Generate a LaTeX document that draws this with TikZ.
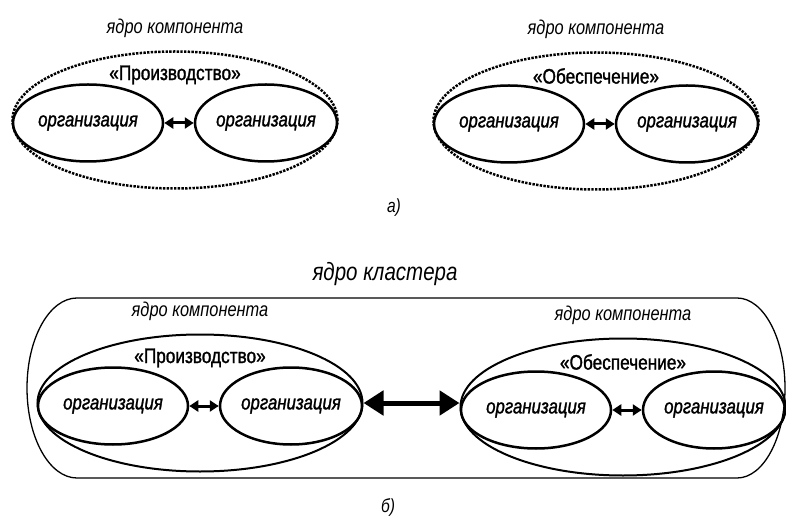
\documentclass[tikz,border=0pt]{standalone}
\usepackage{fontspec}
\setmainfont{Liberation Sans}[FakeStretch=0.82]
\newfontfamily\heavyfont{Liberation Sans}[FakeStretch=0.82, FakeBold=1.3]
\usetikzlibrary{shapes.geometric,arrows.meta}

\tikzset{
  org/.style={draw, ellipse, line width=2.5pt, inner sep=0pt,
    font=\heavyfont\itshape\fontsize{20.5}{20}\selectfont},
  kerndot/.style={draw, ellipse, line width=2.5pt,
    dash pattern=on 2.4pt off 1.3pt, inner sep=0pt},
  kern/.style={draw, ellipse, line width=2pt, inner sep=0pt},
  capt/.style={font=\itshape\fontsize{20}{20}\selectfont},
  ttl/.style={font=\heavyfont\fontsize{21}{21}\selectfont},
  link/.style={line width=3pt,
    {Triangle[length=9pt,width=11pt]}-{Triangle[length=9pt,width=11pt]}},
  biglink/.style={line width=5pt,
    {Triangle[length=20pt,width=24pt]}-{Triangle[length=20pt,width=24pt]}}
}

\begin{document}
\begin{tikzpicture}[x=1pt, y=-1pt]
  \useasboundingbox (0,0) rectangle (786,518);
  % four components: two free ones, two inside the cluster
  \foreach \i/\cx/\cy/\kind/\comp in {1/175/120/kerndot/Производство,
      2/596/121/kerndot/Обеспечение, 3/200/403/kern/Производство,
      4/623/407/kern/Обеспечение}{
    \begin{scope}[shift={(\cx,\cy)}]
      \node[capt] (c\i) at (0,-92) {ядро компонента};
      \node[\kind, minimum width=325pt, minimum height=137pt] (k\i) at (0,0) {};
      \node[ttl] (t\i) at (0,-45) {«\comp»};
      \node[org, minimum width=150pt, minimum height=77pt] (l\i) at (-87,3) {организация};
      \node[org, minimum width=142pt, minimum height=77pt] (r\i) at (91,3) {организация};
      \draw[link] (l\i) -- (r\i);
    \end{scope}
  }
  \node[font=\itshape\fontsize{19}{19}\selectfont] (pa) at (394,208) {а)};

  % cluster frame
  \node[font=\itshape\fontsize{25}{25}\selectfont] (cl) at (385,274) {ядро кластера};
  \draw[line width=1.3pt] (77,298) -- (737,298)
    arc[start angle=90, end angle=-90, x radius=48pt, y radius=90pt]
    -- (77,478)
    arc[start angle=270, end angle=90, x radius=50pt, y radius=90pt] -- cycle;
  \draw[biglink] (k3.east) -- (k3.east -| k4.west);
  \node[font=\itshape\fontsize{19}{19}\selectfont] (pb) at (388,507) {б)};
\end{tikzpicture}
\end{document}
